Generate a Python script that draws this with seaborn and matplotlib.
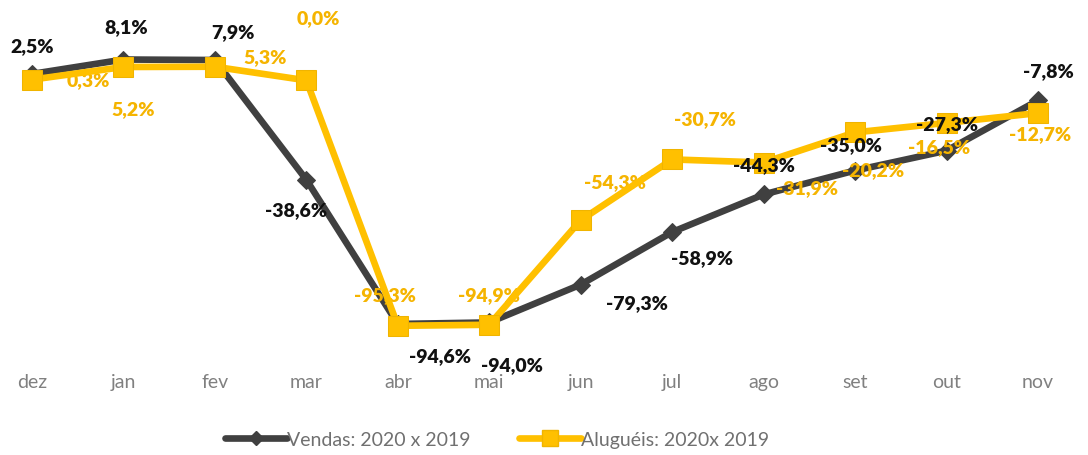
import matplotlib
matplotlib.use("Agg")
import matplotlib.pyplot as plt
import seaborn as sns
import pandas as pd
from matplotlib.lines import Line2D

months = ["dez", "jan", "fev", "mar", "abr", "mai", "jun", "jul", "ago", "set", "out", "nov"]
vendas = [2.5, 8.1, 7.9, -38.6, -94.6, -94.0, -79.3, -58.9, -44.3, -35.0, -27.3, -7.8]
alugueis = [0.3, 5.2, 5.3, 0.0, -95.3, -94.9, -54.3, -30.7, -31.9, -20.2, -16.5, -12.7]
series_names = ["Vendas: 2020 x 2019", "Aluguéis: 2020x 2019"]

# label offsets in pixels (dx, dy)
off_v = [(0, 28), (3, 33), (18, 28), (-10, -30), (42, -32), (23, -42), (56, -18),
         (30, -26), (0, 30), (-4, 26), (0, 27), (10, 30)]
off_a = [(56, 0), (10, -42), (50, 10), (12, 63), (-13, 31), (0, 30), (34, 39),
         (33, 41), (43, -25), (18, -37), (-7, -24), (2, -21)]

dark = "#404040"
yellow = "#FFC000"
ylab = "#F5B400"

sns.set_theme(style="white")
plt.rcParams["font.family"] = ["Lato", "DejaVu Sans"]

fig = plt.figure(figsize=(10.88, 4.56), dpi=100)
ax = fig.add_axes([0, 0.2105, 1, 0.7895])

x = list(range(len(months)))
df_v = pd.DataFrame({"x": x, "y": vendas})
df_a = pd.DataFrame({"x": x, "y": alugueis})

sns.lineplot(data=df_v, x="x", y="y", ax=ax, color=dark, linewidth=4.8, marker="D",
             markersize=9, markeredgecolor=dark, zorder=2, sort=False)
sns.lineplot(data=df_a, x="x", y="y", ax=ax, color=yellow, linewidth=4.8, marker="s",
             markersize=15, markeredgecolor="#F0B400", zorder=3, sort=False)

for i, v in enumerate(vendas):
    ax.annotate(f"{v:.1f}%".replace(".", ","), (i, v), xytext=off_v[i],
                textcoords="offset pixels", ha="center", va="center",
                fontsize=14, fontweight="heavy", color="#111111", zorder=5)
for i, v in enumerate(alugueis):
    ax.annotate(f"{v:.1f}%".replace(".", ","), (i, v), xytext=off_a[i],
                textcoords="offset pixels", ha="center", va="center",
                fontsize=14, fontweight="heavy", color=ylab, zorder=2.5)

ax.set_xlim(-0.35, 11.547)
ax.set_ylim(-108.2, 31.6)
ax.set_xticks(x)
ax.set_xticklabels(months, fontsize=14, color="#808080")
ax.set_yticks([])
ax.set_xlabel("")
ax.set_ylabel("")
ax.tick_params(axis="x", length=0, pad=10)
for s in ax.spines.values():
    s.set_visible(False)

handles = [
    Line2D([], [], color=dark, linewidth=4.8, marker="D", markersize=7),
    Line2D([], [], color=yellow, linewidth=4.8, marker="s", markersize=11, markeredgecolor="#F0B400"),
]
leg = fig.legend(handles, series_names, loc="center", bbox_to_anchor=(0.457, 0.035),
                 ncol=2, frameon=False, fontsize=14, handlelength=3.2, handletextpad=0.0,
                 columnspacing=2.5)
for t in leg.get_texts():
    t.set_color("#707070")

fig.savefig("out.png", dpi=100)
